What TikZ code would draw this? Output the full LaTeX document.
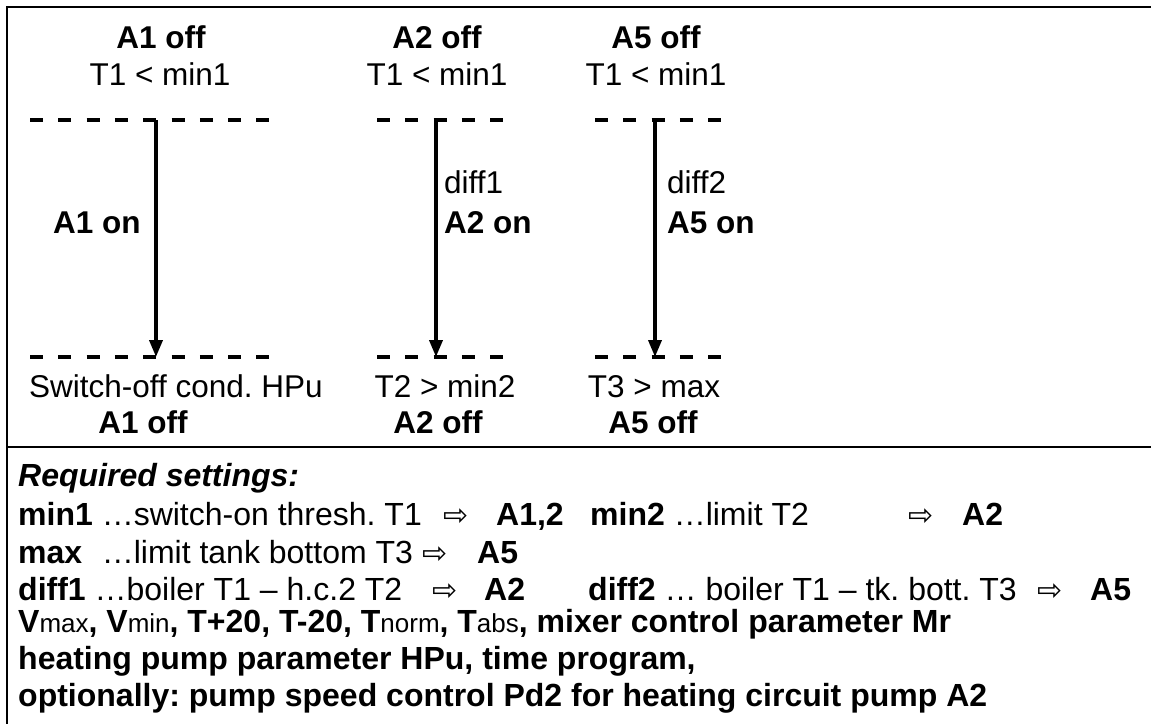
\documentclass[tikz,border=0pt]{standalone}
\usepackage{fontspec}
\setmainfont{Liberation Sans}
\newfontfamily\symfont{DejaVu Sans}
\usetikzlibrary{arrows.meta}
\frenchspacing
\newcommand\smtxt[1]{{\fontsize{26}{30}\selectfont\mdseries #1}}
\newcommand\rarr{{\symfont\fontsize{30}{34}\selectfont ⇨}}
\begin{document}
\begin{tikzpicture}[x=1pt,y=-1pt,
 txt/.style={inner sep=0pt, font=\fontsize{31.5}{37}\selectfont},
 bt/.style={inner sep=0pt, font=\fontsize{31.5}{37}\selectfont\bfseries},
 stxt/.style={inner sep=0pt, font=\fontsize{32}{37}\selectfont},
 sbt/.style={inner sep=0pt, font=\fontsize{32}{37}\selectfont\bfseries},
 dashline/.style={line width=4.2pt, dash pattern=on 13pt off 15.3pt},
 flow/.style={line width=3.6pt, -{Triangle[length=17pt,width=13pt]}},
 frame/.style={line width=2pt}]
\useasboundingbox (0,0) rectangle (1151,724);
% frame
\draw[frame] (1151,7) -- (7,7) -- (7,724);
\draw[frame] (7,447) -- (1151,447);
% top labels
\node[bt, anchor=base] (a1off) at (161,48) {A1 off};
\node[txt, anchor=base] (a1cond) at (160,85) {T1 < min1};
\node[bt, anchor=base] (a2off) at (437,48) {A2 off};
\node[txt, anchor=base] (a2cond) at (437,85) {T1 < min1};
\node[bt, anchor=base] (a5off) at (656,48) {A5 off};
\node[txt, anchor=base] (a5cond) at (656,85) {T1 < min1};
% dashed levels
\draw[dashline] (30,120) -- (270,120);
\draw[dashline] (377,120) -- (505,120);
\draw[dashline] (595,120) -- (722,120);
\draw[dashline] (30,357) -- (270,357);
\draw[dashline] (377,357) -- (505,357);
\draw[dashline] (595,357) -- (722,357);
% arrows
\coordinate (s1) at (156,120);
\coordinate (e1) at (156,357);
\coordinate (s2) at (436,120);
\coordinate (e2) at (436,357);
\coordinate (s3) at (655,120);
\coordinate (e3) at (655,357);
\draw[flow] (s1) -- (e1);
\draw[flow] (s2) -- (e2);
\draw[flow] (s3) -- (e3);
% side labels
\node[bt, anchor=base] (a1on) at (97,233) {A1 on};
\node[txt, anchor=base west] (d1) at (444,193) {diff1};
\node[bt, anchor=base west] (a2on) at (444,233) {A2 on};
\node[txt, anchor=base west] (d2) at (667,193) {diff2};
\node[bt, anchor=base west] (a5on) at (667,233) {A5 on};
% bottom labels
\node[txt, anchor=base] (c1) at (176,397) {Switch-off cond. HPu};
\node[bt, anchor=base] (b1off) at (143,433) {A1 off};
\node[txt, anchor=base] (c2) at (445,397) {T2 > min2};
\node[bt, anchor=base] (b2off) at (438,433) {A2 off};
\node[txt, anchor=base] (c3) at (654,397) {T3 > max};
\node[bt, anchor=base] (b5off) at (653,433) {A5 off};
% settings
\node[stxt, anchor=base west] (req) at (18,486) {\bfseries\itshape Required settings:};
\node[stxt, anchor=base west] (r1a) at (18,525) {\textbf{min1} …switch-on thresh. T1};
\node[stxt, anchor=base west] (r1b) at (443,525) {\rarr};
\node[sbt, anchor=base west] (r1c) at (496,525) {A1,2};
\node[stxt, anchor=base west] (r1d) at (590,525) {\textbf{min2} …limit T2};
\node[stxt, anchor=base west] (r1e) at (908,525) {\rarr};
\node[sbt, anchor=base west] (r1f) at (962,525) {A2};
\node[stxt, anchor=base west] (r2a) at (18,563) {\textbf{max}\,\, …limit tank bottom T3};
\node[stxt, anchor=base west] (r2b) at (422,563) {\rarr};
\node[sbt, anchor=base west] (r2c) at (477,563) {A5};
\node[stxt, anchor=base west] (r3a) at (18,600) {\textbf{diff1} …boiler T1 – h.c.2 T2};
\node[stxt, anchor=base west] (r3b) at (432,600) {\rarr};
\node[sbt, anchor=base west] (r3c) at (484,600) {A2};
\node[stxt, anchor=base west] (r3d) at (588,600) {\textbf{diff2} … boiler T1 – tk. bott. T3};
\node[stxt, anchor=base west] (r3e) at (1037,600) {\rarr};
\node[sbt, anchor=base west] (r3f) at (1090,600) {A5};
\node[sbt, anchor=base west] (r4) at (18,632) {V\smtxt{max}, V\smtxt{min}, T+20, T-20, T\smtxt{norm}, T\smtxt{abs}, mixer control parameter Mr};
\node[sbt, anchor=base west] (r5) at (18,669) {heating pump parameter HPu, time program,};
\node[sbt, anchor=base west] (r6) at (18,706) {optionally: pump speed control Pd2 for heating circuit pump A2};
\end{tikzpicture}
\end{document}
